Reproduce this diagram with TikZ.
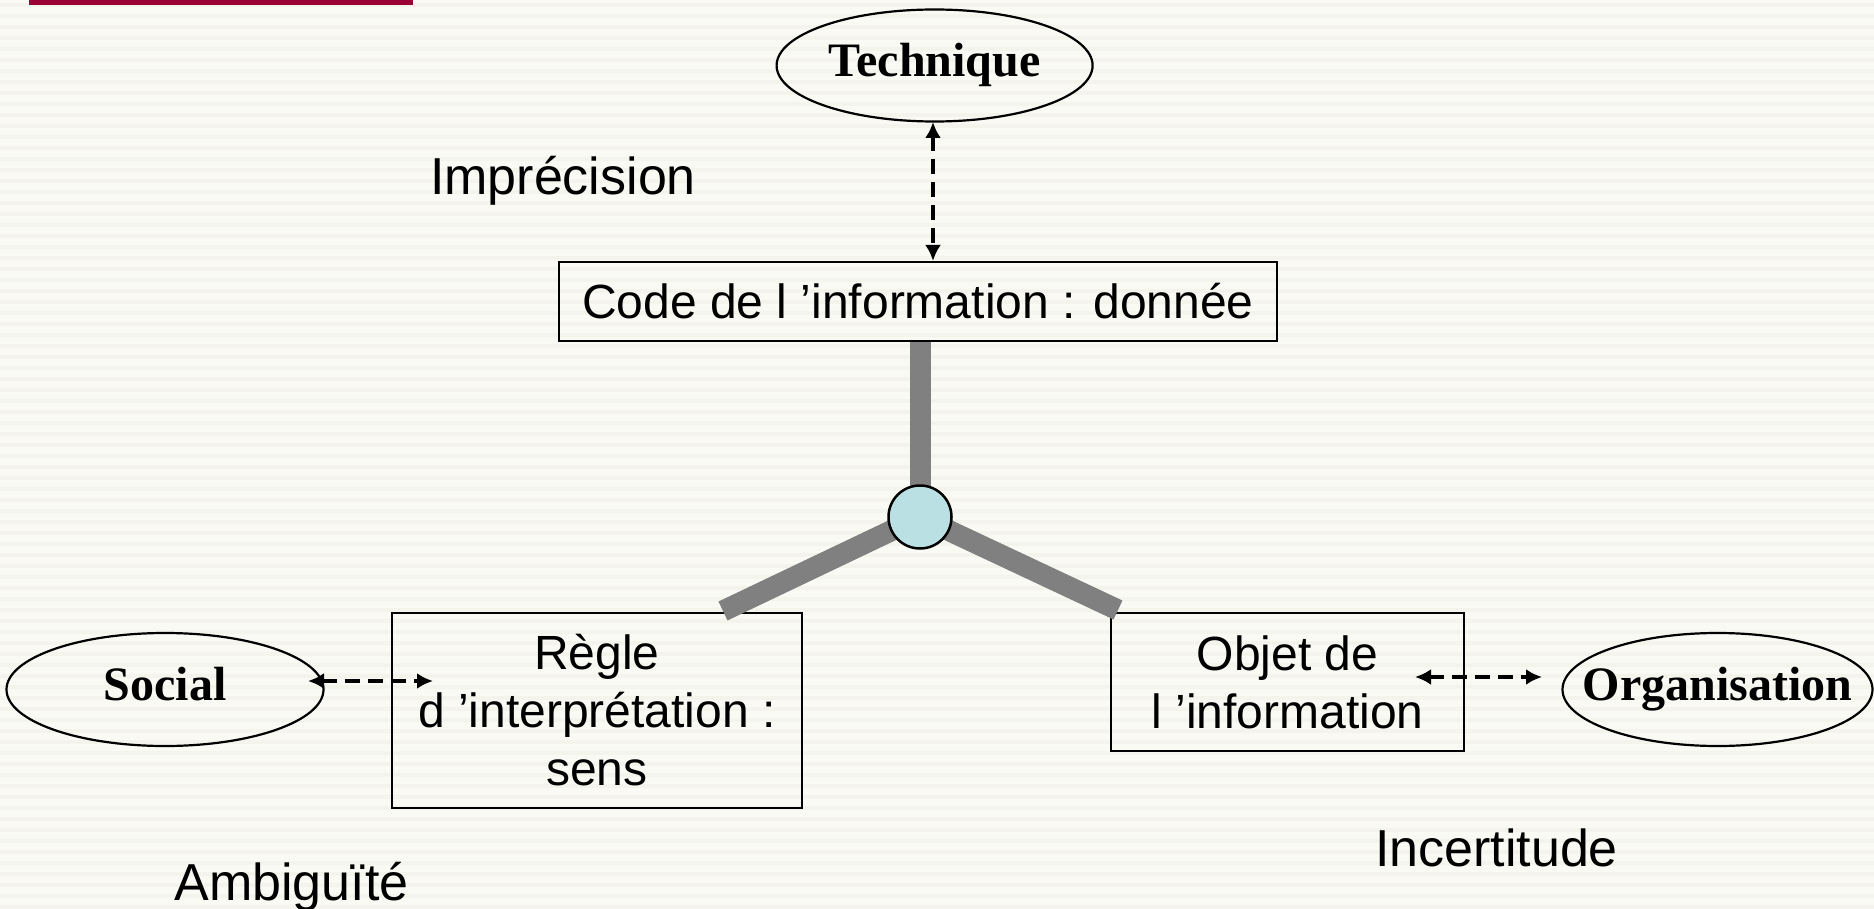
\documentclass[tikz,border=0pt]{standalone}
\usepackage{fontspec}
\setmainfont{Liberation Sans}
\newfontfamily\serifbold{Liberation Serif}
\usetikzlibrary{arrows.meta,shapes.geometric}
\definecolor{bgc}{RGB}{250,250,245}
\definecolor{stripec}{RGB}{244,244,236}
\definecolor{barred}{RGB}{153,0,51}
\definecolor{bargray}{RGB}{128,128,128}
\definecolor{hubblue}{RGB}{187,224,227}
\begin{document}
\begin{tikzpicture}[x=1pt,y=-1pt,
  box/.style={draw=black,line width=2.2pt,inner sep=0pt,align=center,font=\fontsize{48}{58}\selectfont},
  oval/.style={ellipse,draw=black,line width=2.2pt,inner sep=0pt},
  ovaltext/.style={inner sep=0pt,font=\fontsize{48}{58}\selectfont\serifbold\bfseries,text height=33pt,text depth=10.5pt},
  lbl/.style={anchor=base,inner sep=0pt,font=\fontsize{52}{62}\selectfont},
  dasharrow/.style={line width=3.5pt,dash pattern=on 15pt off 8pt,{Latex[length=16pt,width=16pt]}-{Latex[length=16pt,width=16pt]}},
  spoke/.style={line width=21pt,draw=bargray,line cap=butt}]
% background
\useasboundingbox (0,0) rectangle (1874,909);
\fill[bgc] (0,0) rectangle (1874,909);
\foreach \i in {0,...,82} {\fill[stripec] (0,\i*11+3) rectangle (1874,\i*11+7);}
\fill[barred] (29,0) rectangle (413,5);
% ellipses
\node[oval,minimum width=316pt,minimum height=112pt] (tech) at (934.6,65.5) {};
\node[ovaltext] (techt) at (tech.center) {Technique};
\node[oval,minimum width=317pt,minimum height=113pt] (social) at (165,689.5) {};
\node[ovaltext] (socialt) at (social.center) {Social};
\node[oval,minimum width=310pt,minimum height=113pt] (orga) at (1717.5,689.5) {};
\node[ovaltext] (orgat) at (orga.center) {Organisation};
% boxes
\node[box,minimum width=718pt,minimum height=79pt] (code) at (918,301.5) {Code de l ’information : donnée};
\node[box,minimum width=410pt,minimum height=195pt] (regle) at (597,710.5) {Règle\\d ’interprétation :\\sens};
\node[box,minimum width=353pt,minimum height=138pt] (objet) at (1287.5,682) {Objet de\\l ’information};
% spokes
\coordinate (hubc) at (920,517);
\coordinate (lend) at (723,611);
\coordinate (rend) at (1118,610);
\draw[spoke] (hubc) -- (hubc |- code.south);
\draw[spoke] (hubc) -- (lend);
\draw[spoke] (hubc) -- (rend);
\node[circle,draw=black,line width=2.5pt,fill=hubblue,minimum size=63pt,inner sep=0pt] (hub) at (hubc) {};
% arrows
\coordinate (tl) at (933,122);
\draw[dasharrow] (tl) -- (tl |- code.north);
\coordinate (sl) at (308,681);
\coordinate (sr) at (433,681);
\draw[dasharrow] (sl) -- (sr);
\coordinate (orgl) at (1415,677);
\coordinate (orgr) at (1542,677);
\draw[dasharrow] (orgl) -- (orgr);
% labels
\node[lbl] (impr) at (563,195) {Imprécision};
\node[lbl] (ambi) at (291.6,900) {Ambiguïté};
\node[lbl] (incert) at (1496.5,866.7) {Incertitude};
\end{tikzpicture}
\end{document}
